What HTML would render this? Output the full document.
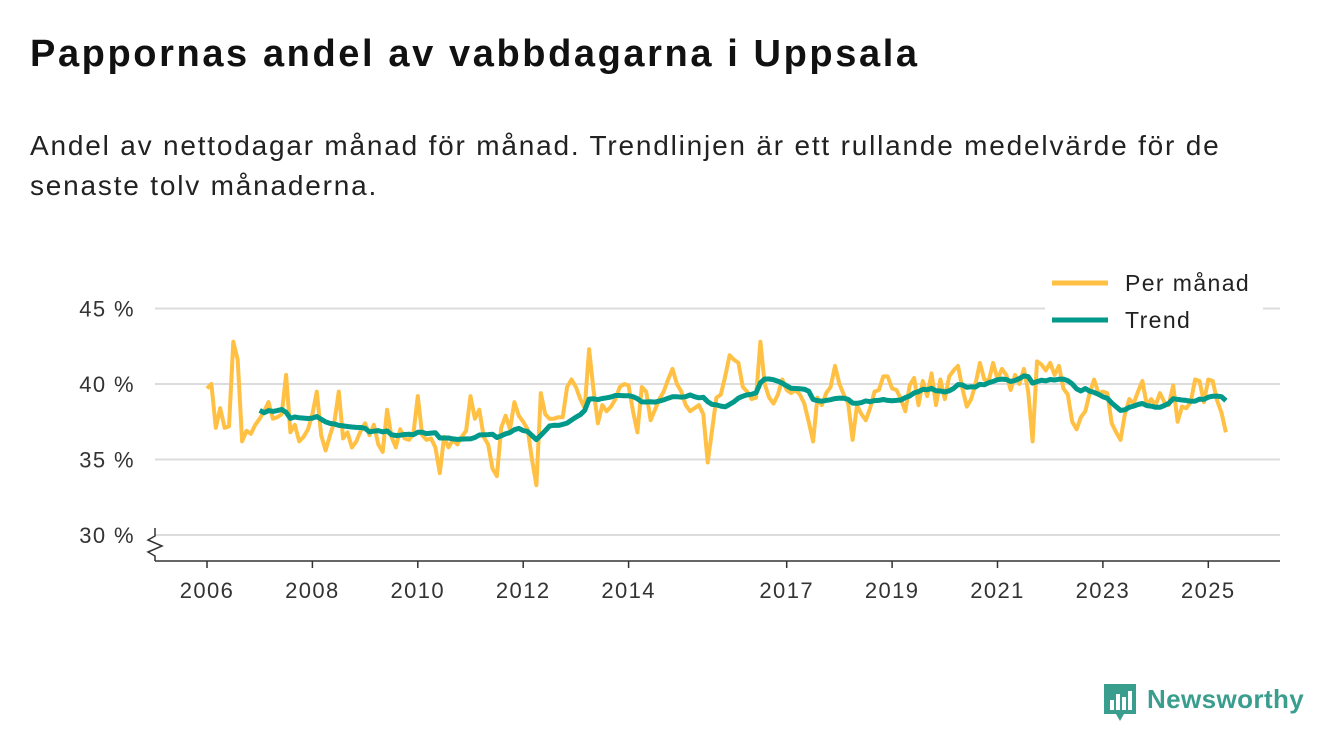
<!DOCTYPE html>
<html><head><meta charset="utf-8"><style>
body{margin:0;width:1340px;height:753px;background:#fff;font-family:"Liberation Sans",sans-serif;overflow:hidden;position:relative}
#title{position:absolute;left:30px;top:33px;font-size:38px;font-weight:bold;color:#111;letter-spacing:2.6px}
#sub{position:absolute;left:30px;top:126px;font-size:28px;line-height:40px;color:#222;width:1270px;letter-spacing:1.8px}
svg{position:absolute;left:0;top:0}
svg text{letter-spacing:1.4px}
</style></head><body>
<div id="title">Pappornas andel av vabbdagarna i Uppsala</div>
<div id="sub">Andel av nettodagar månad för månad. Trendlinjen är ett rullande medelvärde för de senaste tolv månaderna.</div>
<svg id="chart" width="1340" height="753"></svg>
<script>
const startYear = 2006;
const monthly = [
39.7,40.0,37.1,38.4,37.1,37.2,42.8,41.6,36.2,36.9,36.7,37.3,
37.7,38.2,38.8,37.7,37.8,38.0,40.6,36.8,37.3,36.2,36.5,37.0,
38.0,39.5,36.6,35.6,36.6,37.5,39.5,36.4,36.8,35.8,36.2,36.9,
37.4,36.6,37.3,36.0,35.5,38.3,36.5,35.8,37.0,36.4,36.3,36.7,
39.2,36.6,36.3,36.4,35.8,34.1,36.5,35.8,36.3,36.0,36.5,36.9,
39.2,37.7,38.3,36.5,36.0,34.4,33.9,37.1,37.9,37.0,38.8,37.9,
37.5,37.0,35.0,33.3,39.4,38.0,37.7,37.7,37.8,37.8,39.8,40.3,
39.8,39.0,38.4,42.3,39.6,37.4,38.6,38.2,38.5,39.0,39.8,40.0,
39.9,38.2,36.8,39.8,39.5,37.6,38.3,39.0,39.5,40.3,41.0,40.0,
39.5,38.6,38.2,38.4,38.6,38.0,34.8,36.9,39.1,39.3,40.5,41.9,
41.6,41.4,39.8,39.5,39.0,39.1,42.8,40.0,39.1,38.7,39.3,40.3,
39.6,39.4,39.6,39.3,38.7,37.5,36.2,39.1,38.6,39.4,39.8,41.2,
40.0,39.3,38.7,36.3,38.6,38.0,37.6,38.4,39.5,39.6,40.5,40.5,
39.7,39.6,39.0,38.2,39.9,40.4,38.6,40.2,39.2,40.7,38.6,40.3,
39.0,40.5,40.9,41.2,39.7,38.5,39.0,40.0,41.4,40.3,40.2,41.4,
40.3,41.0,40.6,39.6,40.6,40.0,41.0,39.5,36.2,41.5,41.3,40.9,
41.4,40.6,41.2,39.7,39.3,37.5,37.0,37.8,38.2,39.4,40.3,39.4,
39.5,39.4,37.4,36.8,36.3,38.0,39.0,38.7,39.5,40.2,38.6,39.0,
38.6,39.4,38.8,38.6,39.9,37.5,38.5,38.4,38.8,40.3,40.2,38.8,
40.3,40.2,38.9,38.1,36.8
];
const yTicks = [30,35,40,45];
const xTickYears = [2006,2008,2010,2012,2014,2017,2019,2021,2023,2025];
const legendLabels = ["Per månad","Trend"];

const NS="http://www.w3.org/2000/svg";
const svg=document.getElementById('chart');
const X0=207, PXY=52.7;
function xs(t){return X0+(t-startYear)*PXY;}
function ys(v){return 384-(v-40)*15.1;}
function mk(tag,attrs,parent){const e=document.createElementNS(NS,tag);for(const k in attrs)e.setAttribute(k,attrs[k]);(parent||svg).appendChild(e);return e;}

yTicks.forEach(v=>{
  const g=mk('line',{x1:155,x2:1280,y1:ys(v),y2:ys(v),stroke:'#dcdcdc','stroke-width':2});
  
  
  const t=mk('text',{x:135,y:ys(v)+8,'text-anchor':'end','font-size':22,fill:'#333'});
  t.textContent=v+' %';
  
  
});
const ax=mk('line',{x1:155,x2:1280,y1:561,y2:561,stroke:'#333','stroke-width':1.5});


const br=mk('path',{d:'M155,528 L155,536 L148,540 L162,546 L148,552 L155,556 L155,561',fill:'none',stroke:'#333','stroke-width':1.5});


xTickYears.forEach(yr=>{
  const x=xs(yr);
  const tk=mk('line',{x1:x,x2:x,y1:561,y2:568,stroke:'#333','stroke-width':1.5});
  
  
  const t=mk('text',{x:x,y:598,'text-anchor':'middle','font-size':22,fill:'#333'});
  t.textContent=yr;
  
  
});
function pts(arr,off){return arr.map((v,i)=>v==null?null:xs(startYear+(i+off)/12).toFixed(1)+','+ys(v).toFixed(1)).filter(p=>p).join(' ');}
const l1=mk('polyline',{points:pts(monthly,0),fill:'none',stroke:'#ffc043','stroke-width':4,'stroke-linejoin':'round'});


const trend=monthly.map((v,i)=>{if(i<12)return null;let s=0;for(let j=i-11;j<=i;j++)s+=monthly[j];return s/12;});
const l2=mk('polyline',{points:pts(trend,0),fill:'none',stroke:'#00998a','stroke-width':5,'stroke-linejoin':'round'});


const lb=mk('rect',{x:1045,y:262,width:218,height:75,fill:'#fff'});


['#ffc043','#00998a'].forEach((c,i)=>{
  const y=283+i*37;
  const s=mk('line',{x1:1052,x2:1108,y1:y,y2:y,stroke:c,'stroke-width':5});
  
  
  const t=mk('text',{x:1125,y:y+8,'font-size':23,fill:'#222'});
  t.textContent=legendLabels[i];
  
  
});
const lg=mk('g',{});


mk('path',{d:'M1104,684 h32 v30 h-12 l-4,7 l-4,-7 h-12 z',fill:'#3a9e8f'},lg);
[[1110,700,4,10],[1116,694,4,16],[1122,697,4,13],[1128,691,4,19]].forEach(r=>mk('rect',{x:r[0],y:r[1],width:r[2],height:r[3],fill:'#fff'},lg));
const lt=mk('text',{x:1147,y:708,'font-size':26,'font-weight':'bold',fill:'#3a9e8f',style:'letter-spacing:0.4px'},lg);
lt.textContent='Newsworthy';
</script>
</body></html>
